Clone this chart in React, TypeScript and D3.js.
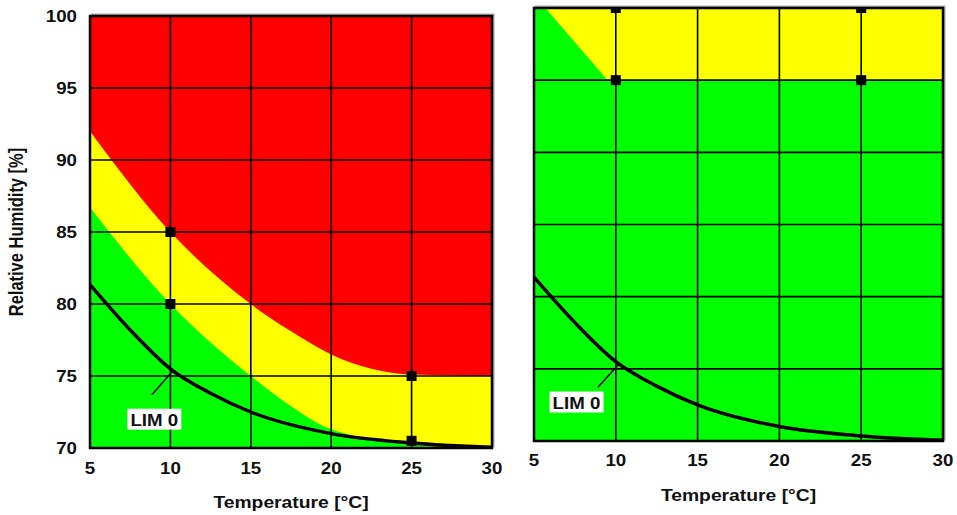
import * as d3 from "d3";

// axis ticks
const tempTicks = [5, 10, 15, 20, 25, 30];
const humTicks = [70, 75, 80, 85, 90, 95, 100];

// left panel: zone boundaries [temperature, humidity]
const redEdge: [number, number][] = [
  [5, 92], [10, 85], [15, 80], [17.5, 78.1], [20, 76.5], [22.5, 75.5], [25, 75.1], [30, 75],
];
const greenEdge: [number, number][] = [
  [5, 86.7], [10, 80], [15, 75], [17.5, 72.9], [20, 71.3], [25, 70.3], [30, 70],
];
const leftMarkers: [number, number][] = [[10, 85], [10, 80], [25, 75], [25, 70.5]];

// right panel
const yellowEdge: [number, number][] = [[5, 100], [5.7, 100], [9.5, 95], [30, 95]];
const rightMarkers: [number, number][] = [[10, 100], [10, 95], [25, 100], [25, 95]];

// LIM 0 curve (same in both panels)
const lim0: [number, number][] = [
  [5, 81.35], [7.5, 78.2], [10, 75.5], [12.5, 73.8], [15, 72.5], [20, 71], [25, 70.35], [30, 70.05],
];

const FONT = "'Liberation Sans', Arial, sans-serif";
const SX = 1.17; // reference text is horizontally stretched

type Panel = {
  id: string;
  x: d3.ScaleLinear<number, number>;
  y: d3.ScaleLinear<number, number>;
  tickY: number;
  titleY: number;
  showY: boolean;
  label: { t: number; rh: number; from: [number, number]; to: [number, number] };
};

const panels: Panel[] = [
  {
    id: "L",
    x: d3.scaleLinear().domain([5, 30]).range([90, 492]),
    y: d3.scaleLinear().domain([70, 100]).range([448, 16]),
    tickY: 468,
    titleY: 502,
    showY: true,
    label: { t: 9, rh: 72, from: [8.85, 73.7], to: [10.1, 75.3] },
  },
  {
    id: "R",
    x: d3.scaleLinear().domain([5, 30]).range([534, 943]),
    y: d3.scaleLinear().domain([70, 100]).range([441, 8]),
    tickY: 460,
    titleY: 495,
    showY: false,
    label: { t: 7.6, rh: 72.7, from: [8.9, 73.7], to: [10.25, 75.4] },
  },
];

function Stretch({ x, y, anchor = "middle", size = 16, rotate = 0, children }: any) {
  return (
    <text
      transform={`translate(${x},${y}) scale(${SX},1) rotate(${rotate})`}
      textAnchor={anchor}
      dominantBaseline="central"
      fontFamily={FONT}
      fontWeight="bold"
      fontSize={size}
      fill="#111"
    >
      {children}
    </text>
  );
}

function PanelView({ p }: { p: Panel }) {
  const { x, y } = p;
  const [x0, x1] = x.range();
  const [yb, yt] = y.range();
  const area = (pts: [number, number][], base: number) =>
    d3
      .area<[number, number]>()
      .x((d) => x(d[0]))
      .y0(y(base))
      .y1((d) => y(d[1]))
      .curve(d3.curveMonotoneX)(pts) as string;
  const line = d3
    .line<[number, number]>()
    .x((d) => x(d[0]))
    .y((d) => y(d[1]))
    .curve(d3.curveMonotoneX);
  const markers = p.id === "L" ? leftMarkers : rightMarkers;
  const ms = 10;
  const lx = x(p.label.t);
  const ly = y(p.label.rh);
  return (
    <g>
      <defs>
        <clipPath id={`clip${p.id}`}>
          <rect x={x0} y={yt} width={x1 - x0} height={yb - yt} />
        </clipPath>
      </defs>
      <rect x={x0 + 1.5} y={yt - 1.5} width={x1 - x0} height={yb - yt} fill="none" stroke="#aaa" strokeWidth={2} />
      <g clipPath={`url(#clip${p.id})`}>
        {p.id === "L" ? (
          <>
            <rect x={x0} y={yt} width={x1 - x0} height={yb - yt} fill="#ff0000" />
            <path d={area(redEdge, 70)} fill="#ffff00" />
            <path d={area(greenEdge, 70)} fill="#00ff00" />
          </>
        ) : (
          <>
            <rect x={x0} y={yt} width={x1 - x0} height={yb - yt} fill="#00ff00" />
            <path
              d={d3.area<[number, number]>().x((d) => x(d[0])).y0(y(100)).y1((d) => y(d[1]))(yellowEdge) as string}
              fill="#ffff00"
            />
          </>
        )}
        {tempTicks.map((t) => (
          <line key={`v${t}`} x1={x(t)} x2={x(t)} y1={yt} y2={yb} stroke="#000" strokeWidth={1.6} />
        ))}
        {humTicks.map((h) => (
          <line key={`h${h}`} x1={x0} x2={x1} y1={y(h)} y2={y(h)} stroke="#000" strokeWidth={1.6} />
        ))}
        <path d={line(lim0) as string} fill="none" stroke="#000" strokeWidth={3.5} />
        {markers.map((m, i) => (
          <rect key={i} x={x(m[0]) - ms / 2} y={y(m[1]) - ms / 2} width={ms} height={ms} fill="#000" />
        ))}
      </g>
      <rect x={x0} y={yt} width={x1 - x0} height={yb - yt} fill="none" stroke="#000" strokeWidth={2.5} />
      <line
        x1={x(p.label.from[0])}
        y1={y(p.label.from[1])}
        x2={x(p.label.to[0])}
        y2={y(p.label.to[1])}
        stroke="#000"
        strokeWidth={1.5}
      />
      <rect x={lx - 27} y={ly - 10.5} width={54} height={21} fill="#fff" />
      <Stretch x={lx} y={ly + 1} size={16}>LIM 0</Stretch>
      {tempTicks.map((t) => (
        <Stretch key={`tx${t}`} x={x(t)} y={p.tickY}>{t}</Stretch>
      ))}
      {p.showY &&
        humTicks.map((h) => (
          <Stretch key={`ty${h}`} x={77} y={y(h)} anchor="end">{h}</Stretch>
        ))}
      <Stretch x={(x0 + x1) / 2} y={p.titleY} size={16.5}>Temperature [°C]</Stretch>
      {p.showY && (
        <Stretch x={17} y={(yt + yb) / 2} size={16.5} rotate={-90}>Relative Humidity [%]</Stretch>
      )}
    </g>
  );
}

export default function App() {
  return (
    <svg
      width={957}
      height={515}
      style={{ position: "absolute", left: 0, top: 0, background: "#fff" }}
    >
      {panels.map((p) => (
        <PanelView key={p.id} p={p} />
      ))}
    </svg>
  );
}
